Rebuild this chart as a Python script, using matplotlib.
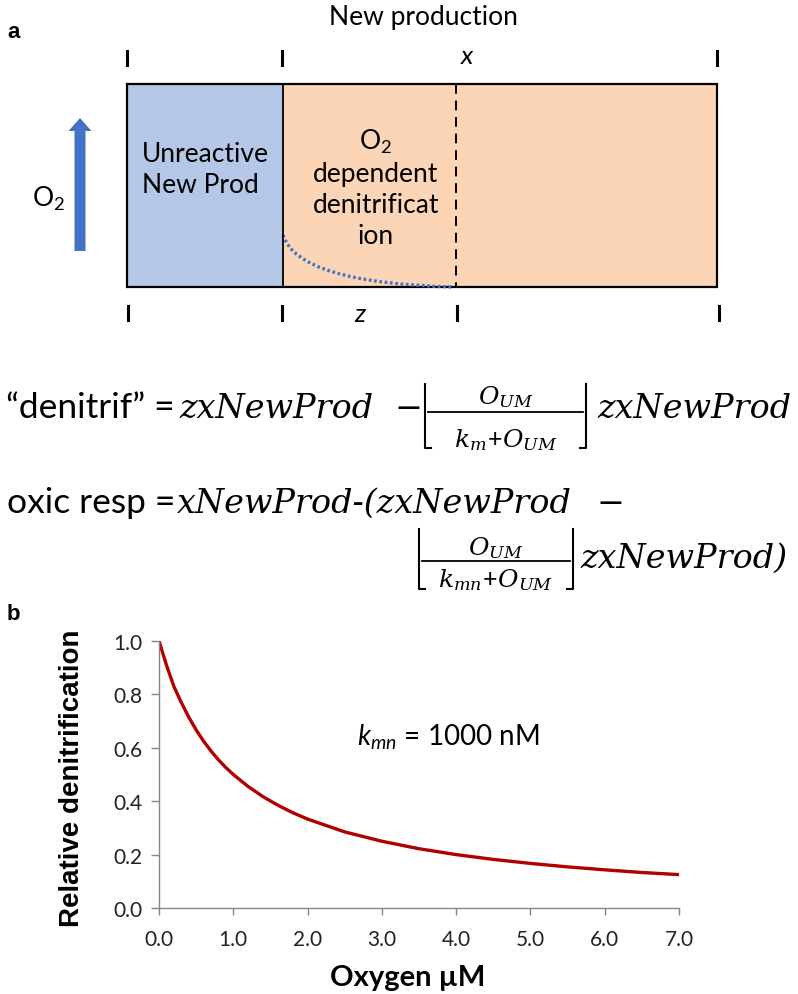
import matplotlib
matplotlib.use("Agg")
import matplotlib.pyplot as plt
from matplotlib.path import Path
from matplotlib.patches import PathPatch, Rectangle

plt.rcParams['font.family'] = ['Lato', 'DejaVu Sans']
plt.rcParams['mathtext.fontset'] = 'custom'
plt.rcParams['mathtext.it'] = 'DejaVu Serif:italic'
plt.rcParams['mathtext.rm'] = 'Lato'
plt.rcParams['mathtext.sf'] = 'Lato:italic'

# relative denitrification vs oxygen (uM), k_mn = 1000 nM
oxygen = [0.0, 0.1, 0.2, 0.3, 0.4, 0.5, 0.6, 0.7, 0.8, 0.9, 1.0, 1.2, 1.4,
          1.6, 1.8, 2.0, 2.5, 3.0, 3.5, 4.0, 4.5, 5.0, 5.5, 6.0, 6.5, 7.0]
rel_denit = [1.0, 0.91, 0.83, 0.77, 0.715, 0.667, 0.625, 0.588, 0.555, 0.526,
             0.5, 0.455, 0.417, 0.385, 0.357, 0.333, 0.285, 0.25, 0.222, 0.2,
             0.182, 0.167, 0.154, 0.143, 0.133, 0.125]
x_ticks = [0, 1, 2, 3, 4, 5, 6, 7]
y_ticks = [0.0, 0.2, 0.4, 0.6, 0.8, 1.0]

W, H = 798, 995
fig = plt.figure(figsize=(W / 100, H / 100), dpi=100)

# panel a + equations drawn on a pixel-space overlay
ax = fig.add_axes([0, 0, 1, 1])
ax.set_xlim(0, W)
ax.set_ylim(H, 0)
ax.axis('off')

blue_fill = '#B4C7E7'
orange_fill = '#FBD5B5'
arrow_blue = '#4472C4'

box_l, box_r, box_t, box_b = 127, 717, 85, 288
split_x, dash_x = 283, 456

ax.add_patch(Rectangle((box_l, box_t), split_x - box_l, box_b - box_t,
                       facecolor=blue_fill, edgecolor='none'))
ax.add_patch(Rectangle((split_x, box_t), box_r - split_x, box_b - box_t,
                       facecolor=orange_fill, edgecolor='none'))
ax.add_patch(Rectangle((box_l, box_t), box_r - box_l, box_b - box_t,
                       facecolor='none', edgecolor='black', lw=1.6))
ax.plot([split_x, split_x], [box_t, box_b], color='black', lw=1.3)
ax.plot([dash_x, dash_x], [box_t, box_b], color='black', lw=1.4,
        dashes=(5, 3.5))

# O2 decay inside the z band
verts = [(split_x, 236), (298, 284), (453, 288)]
curve = Path(verts, [Path.MOVETO, Path.CURVE3, Path.CURVE3])
ax.add_patch(PathPatch(curve, facecolor='none', edgecolor=arrow_blue,
                       lw=2.4, linestyle=(0, (0.8, 0.8))))

# scale marks above and below the box
for xm in [127, 282, 717]:
    ax.plot([xm, xm], [52, 66], color='black', lw=2.2)
for xm in [128, 282, 457, 719]:
    ax.plot([xm, xm], [307, 321], color='black', lw=2.2)

ax.text(423, 17, 'New production', ha='center', va='center', fontsize=19)
ax.text(467, 56, 'x', ha='center', va='center', fontsize=19, style='italic')
ax.text(360, 315, 'z', ha='center', va='center', fontsize=19, style='italic')
ax.text(7, 32, 'a', ha='left', va='center', fontsize=16, fontweight='bold',
        family='Liberation Sans')

ax.arrow(80, 252, 0, -120, width=11, head_width=23, head_length=13,
         length_includes_head=False, color=arrow_blue, lw=0)
ax.text(49, 199, r'O$_2$', ha='center', va='center', fontsize=19)

ax.text(142, 170, 'Unreactive\nNew Prod', ha='left', va='center',
        fontsize=19, linespacing=1.3)
ax.text(376, 188, 'O$_2$\ndependent\ndenitrificat\nion', ha='center',
        va='center', fontsize=19, linespacing=1.3, multialignment='center')

# equations
serif = dict(family='DejaVu Serif', style='italic', fontsize=24)


def frac(xl, xr, y_line, y_num, y_den, num, den, top, bot):
    xc = (xl + xr) / 2
    ax.plot([xl + 3, xr - 3], [y_line, y_line], color='black', lw=1.3)
    ax.text(xc, y_num, num, ha='center', va='center', fontsize=18)
    ax.text(xc, y_den, den, ha='center', va='center', fontsize=18)
    ax.plot([xl + 6, xl, xl], [bot, bot, top], color='black', lw=1.5)
    ax.plot([xr - 6, xr, xr], [bot, bot, top], color='black', lw=1.5)


ax.text(175, 418, '\u201cdenitrif\u201d =', ha='right', va='baseline',
        fontsize=25.5)
ax.text(179, 418, 'zxNewProd', ha='left', va='baseline', **serif)
ax.text(409, 418, '\u2212', ha='center', va='baseline', **serif)
frac(425, 586, 413, 397, 440, r'$O_{UM}$', r'$k_m\!+\!O_{UM}$', 385, 449)
ax.text(597, 418, 'zxNewProd', ha='left', va='baseline', **serif)

ax.text(175, 513, 'oxic resp =', ha='right', va='baseline', fontsize=25.5)
ax.text(177, 513, 'xNewProd-(zxNewProd', ha='left', va='baseline', **serif)
ax.text(611, 513, '\u2212', ha='center', va='baseline', **serif)
frac(419, 573, 562, 548, 580, r'$O_{UM}$', r'$k_{mn}\!+\!O_{UM}$', 530, 590)
ax.text(580, 568, 'zxNewProd)', ha='left', va='baseline', **serif)

ax.text(7, 615, 'b', ha='left', va='center', fontsize=16, fontweight='bold',
        family='Liberation Sans')

# panel b
pl, pr, pt, pb = 159, 679, 642, 909
axb = fig.add_axes([pl / W, 1 - pb / H, (pr - pl) / W, (pb - pt) / H])
axb.plot(oxygen, rel_denit, color='#B00000', lw=2.4)
axb.set_xlim(0, 7)
axb.set_ylim(0, 1)
axb.set_xticks(x_ticks)
axb.set_xticklabels([f'{v:.1f}' for v in x_ticks])
axb.set_yticks(y_ticks)
axb.set_yticklabels([f'{v:.1f}' for v in y_ticks])
for side in ['top', 'right']:
    axb.spines[side].set_visible(False)
for side in ['left', 'bottom']:
    axb.spines[side].set_color('#868686')
    axb.spines[side].set_linewidth(1.0)
axb.tick_params(axis='both', colors='#868686', labelcolor='#222222',
                labelsize=15, direction='out', width=1.0)
axb.tick_params(axis='x', length=5, pad=10)
axb.tick_params(axis='y', length=6, pad=6)
axb.set_ylabel('Relative denitrification', fontsize=20, fontweight='bold',
               family='Liberation Sans')
axb.yaxis.set_label_coords((72 - pl) / (pr - pl), 0.49)
axb.yaxis.label.set_va('center')
axb.set_xlabel('Oxygen \u00b5M', fontsize=21, fontweight='bold')
axb.xaxis.set_label_coords((408 - pl) / (pr - pl), -(978 - pb) / (pb - pt))
axb.xaxis.label.set_va('center')
axb.text(448, 737, r'$\mathsf{k_{mn}}$ = 1000 nM', transform=ax.transData,
         ha='center', va='center', fontsize=20)

fig.savefig('out.png', dpi=100)
